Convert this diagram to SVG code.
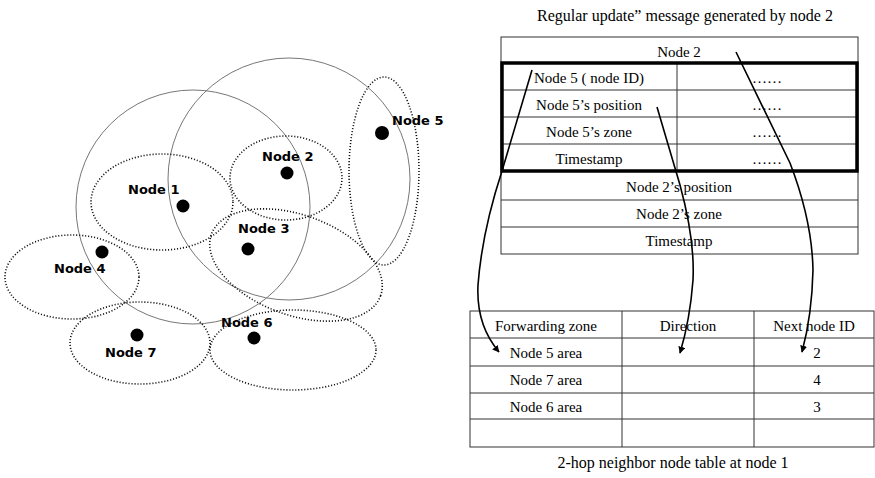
<svg xmlns="http://www.w3.org/2000/svg" width="875" height="478" viewBox="0 0 875 478">
<style>
.range{fill:none;stroke:#777;stroke-width:1}
.zone{fill:none;stroke:#111;stroke-width:1.6;stroke-dasharray:1.1 1.9}
.dot{fill:#000}
.lbl{font-family:"DejaVu Sans",sans-serif;font-weight:bold;font-size:13px;fill:#000}
.t{font-family:"Liberation Serif","Times New Roman",serif;font-size:15px;fill:#000;text-anchor:middle}
.cap{font-family:"Liberation Serif","Times New Roman",serif;font-size:16px;fill:#000;text-anchor:middle}
.thin{fill:none;stroke:#333;stroke-width:1}
.thick{fill:none;stroke:#000;stroke-width:3.5}
.arrow{fill:none;stroke:#000;stroke-width:1.6;marker-end:url(#ah)}
</style>
<defs>
<marker id="ah" viewBox="0 0 10 10" refX="9" refY="5" markerWidth="7" markerHeight="7" markerUnits="userSpaceOnUse" orient="auto">
<path d="M0,0 L10,5 L0,10 z" fill="#000"/>
</marker>
</defs>
<rect width="875" height="478" fill="#fff"/>

<g id="ranges">
<circle class="range" cx="193" cy="207" r="117"/>
<circle class="range" cx="289" cy="179" r="121"/>
</g>

<g id="node1"><ellipse class="zone" cx="162" cy="202" rx="71" ry="48"/><circle class="dot" cx="183" cy="206" r="6.5"/><text class="lbl" x="128" y="194">Node 1</text></g>
<g id="node2"><ellipse class="zone" cx="286" cy="178" rx="56" ry="42"/><circle class="dot" cx="287" cy="173" r="6.5"/><text class="lbl" x="262" y="161">Node 2</text></g>
<g id="node3"><ellipse class="zone" cx="296" cy="265" rx="90" ry="50" transform="rotate(20 296 265)"/><circle class="dot" cx="248" cy="249" r="6.5"/><text class="lbl" x="238" y="233">Node 3</text></g>
<g id="node4"><ellipse class="zone" cx="72" cy="277" rx="67" ry="42"/><circle class="dot" cx="102" cy="252" r="6.5"/><text class="lbl" x="54" y="273">Node 4</text></g>
<g id="node5"><ellipse class="zone" cx="384" cy="171" rx="35" ry="94"/><circle class="dot" cx="382" cy="133" r="7"/><text class="lbl" x="392" y="125">Node 5</text></g>
<g id="node6"><ellipse class="zone" cx="293" cy="350" rx="83" ry="40"/><circle class="dot" cx="254" cy="338" r="6.5"/><text class="lbl" x="221" y="327">Node 6</text></g>
<g id="node7"><ellipse class="zone" cx="140" cy="343" rx="70" ry="41"/><circle class="dot" cx="137" cy="335" r="6.5"/><text class="lbl" x="105" y="357">Node 7</text></g>

<g id="update-message">
<text class="cap" x="685" y="21">Regular update” message generated by node 2</text>
<rect class="thin" x="501" y="37" width="357" height="217"/>
<line class="thin" x1="501" y1="200" x2="858" y2="200"/>
<line class="thin" x1="501" y1="227" x2="858" y2="227"/>
<line class="thin" x1="501" y1="90" x2="857" y2="90"/>
<line class="thin" x1="501" y1="117" x2="857" y2="117"/>
<line class="thin" x1="501" y1="144" x2="857" y2="144"/>
<line class="thin" x1="677" y1="63" x2="677" y2="171"/>
<rect class="thick" x="502" y="63" width="355" height="108"/>
<text class="t" x="679" y="57">Node 2</text>
<text class="t" x="589" y="83">Node 5 ( node ID)</text>
<text class="t" x="589" y="110">Node 5’s position</text>
<text class="t" x="589" y="137">Node 5’s zone</text>
<text class="t" x="589" y="164">Timestamp</text>
<text class="t" x="767" y="83">……</text>
<text class="t" x="767" y="110">……</text>
<text class="t" x="767" y="137">……</text>
<text class="t" x="767" y="164">……</text>
<text class="t" x="679" y="192">Node 2’s position</text>
<text class="t" x="679" y="219">Node 2’s zone</text>
<text class="t" x="679" y="246">Timestamp</text>
</g>

<g id="neighbor-table">
<rect class="thin" x="470" y="311" width="404" height="136"/>
<line class="thin" x1="470" y1="338" x2="874" y2="338"/>
<line class="thin" x1="470" y1="366" x2="874" y2="366"/>
<line class="thin" x1="470" y1="393" x2="874" y2="393"/>
<line class="thin" x1="470" y1="419" x2="874" y2="419"/>
<line class="thin" x1="622" y1="311" x2="622" y2="447"/>
<line class="thin" x1="754" y1="311" x2="754" y2="447"/>
<text class="t" x="546" y="331">Forwarding zone</text>
<text class="t" x="688" y="331">Direction</text>
<text class="t" x="814" y="331">Next node ID</text>
<text class="t" x="546" y="358">Node 5 area</text>
<text class="t" x="546" y="385">Node 7 area</text>
<text class="t" x="546" y="412">Node 6 area</text>
<text class="t" x="817" y="358">2</text>
<text class="t" x="817" y="385">4</text>
<text class="t" x="817" y="412">3</text>
<text class="cap" x="673" y="468">2-hop neighbor node table at node 1</text>
</g>

<g id="connectors">
<path class="arrow" d="M532,70 L502,171 Q482,232 478,285 Q476,325 499,352"/>
<path class="arrow" d="M657,107 L680,185 Q695,240 693,280 Q690,320 680,353"/>
<path class="arrow" d="M736,52 L790,163 Q812,220 813,270 Q812,315 802,352"/>
</g>
</svg>
